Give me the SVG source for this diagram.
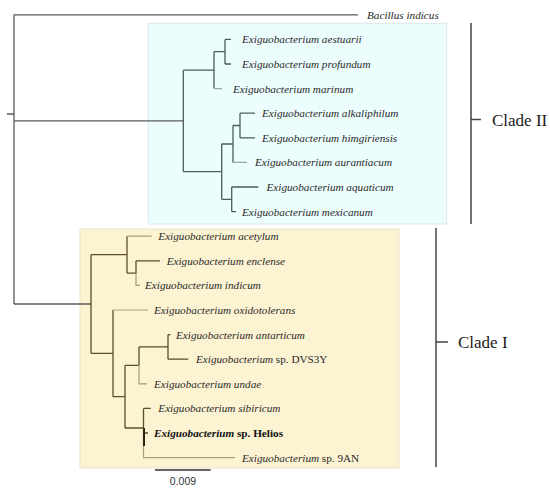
<svg xmlns="http://www.w3.org/2000/svg" width="550" height="489" viewBox="0 0 550 489">
<style>
.t{font-family:"Liberation Serif","Times New Roman",serif;font-style:italic;font-size:11.2px;fill:#2a2a2a}
.r{font-style:normal}
.b{font-weight:bold;fill:#111}
.clade{font-family:"Liberation Serif","Times New Roman",serif;font-size:17px;fill:#1a1a1a}
.sc{font-family:"Liberation Sans",Arial,sans-serif;font-size:10.5px;fill:#333}
.o{stroke:#5a5a5a;stroke-width:1.3;fill:none}
.c2{stroke:#4a5c5c;stroke-width:1.3;fill:none}
.c2l{stroke:#9aa8a8;stroke-width:1.2;fill:none}
.c1{stroke:#5e4c2a;stroke-width:1.3;fill:none}
.c1l{stroke:#ab9c7c;stroke-width:1.2;fill:none}
.br{stroke:#444;stroke-width:1.5;fill:none}
</style>
<rect width="550" height="489" fill="#fff"/>
<g id="boxes">
<rect x="148.3" y="23.3" width="298.4" height="200.7" fill="#ecfdfd" stroke="#dbe8e8" stroke-width="1"/>
<rect x="80" y="229" width="319" height="239" fill="#fcf3d2" stroke="#eee4c4" stroke-width="1"/>
</g>
<g id="connectors">
<!-- root -->
<path class="o" d="M7,114H14M14,14.8V304M14,14.8H358M14,120.9H183.3M14,304H91"/>
<!-- clade II -->
<path class="c2" d="M183.3,70.15V171.6M183.3,70.15H214M183.3,171.6H221.7M214,51.7V88.6M214,51.7H225M225,39.4V64M225,39.4H231M225,64H231M221.7,144V199.3M221.7,144H233M221.7,199.3H231.7M233,125.5V162.4M233,125.5H240M240,113.2V137.8M240,113.2H255M240,137.8H255M231.7,187V211.6M231.7,187H258.3M231.7,211.6H236"/>
<path class="c2l" d="M214,88.6H222M233,162.4H247"/>
<!-- clade I -->
<path class="c1" d="M91,254.65V353.35M91,254.65H127M127,236.2V273.1M127,273.1H136M136,260.8V273.1M136,260.8H160M91,353.35H113M113,310V396.7M113,396.7H125M125,365.35V428M125,365.35H139M139,346.9V365.35M139,346.9H168M168,334.6V359.2M168,334.6H170.5M168,359.2H188.3M125,428H143.5M143.5,408.4V428M143.5,408.4H150.7M143.5,433H148"/>
<path class="c1l" d="M127,236.2H151.7M136,273.1V285.4H140M113,310H148.3M139,365.35V383.8H147M143.5,428V457.6H235"/>
<path stroke="#2a2210" stroke-width="2" d="M144,428V446"/>
</g>
<g id="brackets">
<path class="br" d="M471,23V224M471,119.5H481"/>
<path class="br" d="M436,228V467M436,342H448"/>
</g>
<g id="clade-II"><text class="clade" x="492" y="125.5">Clade II</text></g>
<g id="clade-I"><text class="clade" x="458" y="348">Clade I</text></g>
<g id="bacillus-indicus"><text class="t" x="367" y="18.8">Bacillus indicus</text></g>
<g id="e-aestuarii"><text class="t" x="242" y="43.4">Exiguobacterium aestuarii</text></g>
<g id="e-profundum"><text class="t" x="242" y="68">Exiguobacterium profundum</text></g>
<g id="e-marinum"><text class="t" x="233" y="92.6">Exiguobacterium marinum</text></g>
<g id="e-alkaliphilum"><text class="t" x="262" y="117.2">Exiguobacterium alkaliphilum</text></g>
<g id="e-himgiriensis"><text class="t" x="262" y="141.8">Exiguobacterium himgiriensis</text></g>
<g id="e-aurantiacum"><text class="t" x="255" y="166.4">Exiguobacterium aurantiacum</text></g>
<g id="e-aquaticum"><text class="t" x="266.5" y="191">Exiguobacterium aquaticum</text></g>
<g id="e-mexicanum"><text class="t" x="242" y="215.6">Exiguobacterium mexicanum</text></g>
<g id="e-acetylum"><text class="t" x="158.3" y="240.2">Exiguobacterium acetylum</text></g>
<g id="e-enclense"><text class="t" x="166.7" y="264.8">Exiguobacterium enclense</text></g>
<g id="e-indicum"><text class="t" x="145" y="289.4">Exiguobacterium indicum</text></g>
<g id="e-oxidotolerans"><text class="t" x="154" y="314">Exiguobacterium oxidotolerans</text></g>
<g id="e-antarticum"><text class="t" x="176" y="338.6">Exiguobacterium antarticum</text></g>
<g id="e-dvs3y"><text class="t" x="196" y="363.2">Exiguobacterium<tspan class="r"> sp. DVS3Y</tspan></text></g>
<g id="e-undae"><text class="t" x="154" y="387.8">Exiguobacterium undae</text></g>
<g id="e-sibiricum"><text class="t" x="158.3" y="412.4">Exiguobacterium sibiricum</text></g>
<g id="e-helios"><text class="t b" x="154" y="437">Exiguobacterium<tspan class="r"> sp. Helios</tspan></text></g>
<g id="e-9an"><text class="t" x="242" y="461.6">Exiguobacterium<tspan class="r"> sp. 9AN</tspan></text></g>
<g id="scale-bar">
<path stroke="#333" stroke-width="1.5" d="M155,470H210.7"/>
<text class="sc" x="183" y="485" text-anchor="middle">0.009</text>
</g>
</svg>
